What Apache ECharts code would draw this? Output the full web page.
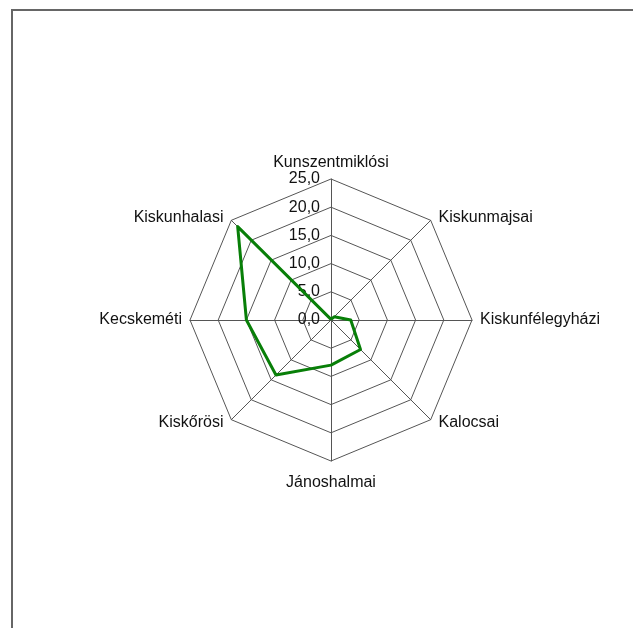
<!DOCTYPE html>
<html>
<head>
<meta charset="utf-8">
<script src="https://cdn.jsdelivr.net/npm/echarts@6/dist/echarts.min.js"></script>
<style>
  html, body { margin: 0; padding: 0; background: #fff; }
  #frame { position: absolute; left: 11px; top: 9px; width: 700px; height: 700px; border: 2px solid #666; box-sizing: border-box; }
  #chart { position: absolute; left: 0; top: 0; width: 633px; height: 628px; }
</style>
</head>
<body>
<div id="frame"></div>
<div id="chart"></div>
<script>
// clockwise from the top, as in the picture
const regions = ['Kunszentmiklósi', 'Kiskunmajsai', 'Kiskunfélegyházi', 'Kalocsai',
  'Jánoshalmai', 'Kiskőrösi', 'Kecskeméti', 'Kiskunhalasi']
const values = [0.1, 0.8, 3.5, 7.4, 8.0, 13.8, 15.0, 23.4]
const axisMax = 25
const tickStep = 5

const fontFamily = 'Liberation Sans, Arial, sans-serif'
const fmt = v => v.toFixed(1).replace('.', ',')

// echarts lays indicators out counterclockwise, so walk the lists backwards after the first
const order = regions.map((_, i) => (regions.length - i) % regions.length)

// name placement per position (index in clockwise order)
const nameGaps = [8, 4, 8, 4, 14, 4, 8, 4]

const myChart = echarts.init(document.getElementById('chart'), null, { renderer: 'canvas' })

const option = {
  animation: false,
  textStyle: { fontFamily },
  radar: {
    center: [331, 320],
    radius: 141,
    startAngle: 90,
    shape: 'polygon',
    splitNumber: axisMax / tickStep,
    nameGap: 8,
    axisName: { color: '#111', fontSize: 16, fontFamily },
    axisLine: { lineStyle: { color: '#555', width: 1 } },
    splitLine: { lineStyle: { color: '#555', width: 1 } },
    splitArea: { show: false },
    axisTick: { show: false },
    axisLabel: { show: false },
    indicator: order.map((k, i) => ({
      name: regions[k],
      min: 0,
      max: axisMax,
      nameGap: nameGaps[k],
      nameTextStyle: k % 2 === 1 ? { padding: [0, 5, 0, 5] } : {},
      axisLabel: i === 0 ? {
        show: true, color: '#111', fontSize: 16, margin: 11, fontFamily,
        formatter: fmt
      } : { show: false }
    }))
  },
  series: [{
    type: 'radar',
    symbol: 'none',
    lineStyle: { color: '#087f08', width: 3 },
    data: [{ value: order.map(k => values[k]), name: 'Arány' }]
  }]
}

myChart.setOption(option)
</script>
</body>
</html>
